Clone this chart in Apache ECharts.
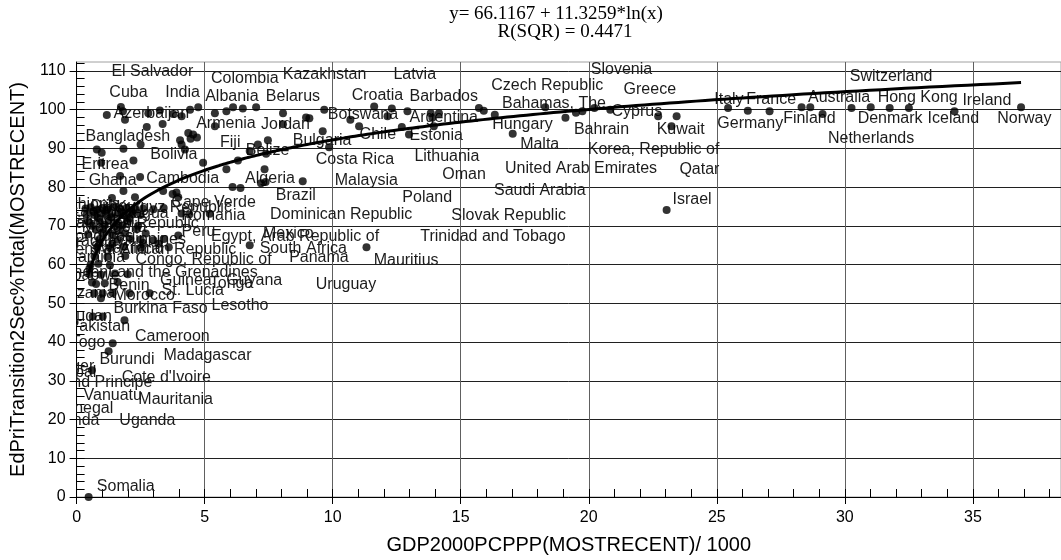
<!DOCTYPE html>
<html>
<head>
<meta charset="utf-8">
<script src="https://cdn.jsdelivr.net/npm/echarts@6/dist/echarts.min.js"></script>
<style>
html,body{margin:0;padding:0;background:#fff;}
#chart{width:1061px;height:560px;}
</style>
</head>
<body>
<div id="chart"></div>
<script>
// ---- Data (GDP per capita PPP /1000, primary->secondary transition %) ----
const pointX = [
  1.18,1.73,1.81,1.89,2.80,3.25,3.36,2.74,3.77,4.10,4.43,4.75,4.36,4.55,4.70,4.45,4.04,4.10,4.23,0.79,0.98,1.83,2.50,2.22,0.96,1.70,2.48,1.83,1.38,2.28,3.38,3.75,3.90,4.94,
  5.40,5.40,5.85,6.11,6.49,7.01,8.06,8.06,9.09,5.85,6.30,6.76,7.08,7.47,7.40,7.34,7.38,7.20,6.09,6.40,8.83,8.96,9.61,9.86,9.67,
  10.69,11.03,11.62,12.14,12.31,12.70,12.92,12.98,13.83,13.89,14.15,13.95,15.71,15.90,16.33,17.03,18.30,19.09,19.50,19.75,20.22,20.84,
  22.71,23.43,23.23,23.04,25.44,26.21,27.06,28.31,28.65,29.13,30.26,31.01,31.75,32.50,34.28,36.88,
  11.32,6.76,5.20,3.97,3.97,
  0.50,0.76,0.69,1.02,1.41,2.07,2.85,0.95,1.87,1.02,0.63,1.41,1.25,0.60,0.47,
  0.35,0.55,0.80,1.00,1.20,1.45,1.70,1.95,2.30,2.60,3.00,3.40,
  0.40,0.70,0.95,1.30,1.60,1.90,2.20,2.50,4.10,4.40,
  0.45,0.90,1.25,1.55,2.00,0.60,1.10,1.50,1.80,2.40,
  1.00,1.40,1.90,2.70,0.90,1.60,2.10,2.50,3.00,3.40,
  0.80,1.30,1.85,2.50,3.60,0.70,1.20,1.90,0.55,0.85,1.30,
  0.50,0.95,1.50,2.00,0.60,1.10,1.60,
  0.65,1.15,1.75,2.15,0.85,1.35,2.05,0.75,1.05,1.65,2.35,0.45,0.90,1.40,2.60,3.20
];
const pointY = [
  98.6,100.7,99.6,97.4,99.1,99.8,96.3,95.5,98.9,98.3,100.0,100.6,94.0,93.6,92.8,92.5,92.1,91.0,89.7,89.7,88.9,89.9,91.0,86.9,86.3,82.9,82.6,79.0,77.2,77.4,79.0,78.2,78.6,86.3,
  99.1,95.7,99.6,100.6,100.3,100.6,99.1,96.2,97.8,84.6,86.9,89.3,91.0,92.1,88.6,84.6,81.3,81.0,80.0,79.8,81.5,98.0,94.4,90.3,100.0,
  97.4,95.7,100.8,98.3,100.3,95.5,99.6,93.6,99.1,97.9,99.1,95.7,100.4,99.7,98.7,93.8,100.6,97.9,99.2,99.6,100.4,100.0,
  98.3,98.3,95.7,74.1,100.4,99.7,99.6,100.6,100.6,98.9,100.4,100.6,100.4,100.4,99.6,100.6,
  64.5,65.0,73.1,67.5,77.4,
  59.0,55.0,52.6,52.6,52.6,52.6,52.6,51.3,45.6,46.6,46.6,39.7,37.6,32.7,0.0,
  74.5,74.8,74.2,74.6,74.3,74.8,74.4,74.6,74.2,74.5,74.3,74.6,
  73.0,72.8,73.2,72.9,73.1,72.7,73.0,72.8,73.2,72.9,
  71.2,71.0,71.3,70.9,71.1,70.0,70.2,69.9,70.1,70.0,
  68.2,67.9,68.1,68.0,66.6,66.4,66.7,66.5,66.3,66.6,
  64.5,64.3,64.6,64.4,64.5,62.1,62.0,62.2,60.0,60.2,59.8,
  57.6,57.4,57.7,57.5,55.4,55.2,55.5,
  73.8,73.9,73.6,73.7,72.0,72.2,71.9,69.0,69.2,68.8,69.1,67.8,65.5,65.3,65.6,65.4
];

const labelText = [
  "El Salvador","Cuba","India","Colombia","Kazakhstan","Latvia","Albania","Belarus","Croatia","Barbados",
  "Czech Republic","Slovenia","Greece","Switzerland","Australia","Hong Kong","Ireland","Norway","Iceland","Denmark",
  "Netherlands","Finland","Germany","Italy","France","Cyprus","Kuwait","Bahrain","Bahamas, The","Hungary",
  "Malta","Korea, Republic of","United Arab Emirates","Qatar","Saudi Arabia","Israel","Slovak Republic","Trinidad and Tobago","Mauritius","Uruguay",
  "Poland","Dominican Republic","Oman","Lithuania","Estonia","Argentina","Botswana","Chile","Costa Rica","Malaysia",
  "Bulgaria","Jordan","Armenia","Fiji","Belize","Algeria","Brazil","Cambodia","Bolivia","Bangladesh",
  "Azerbaijan","Eritrea","Ghana","Cape Verde","Romania","Egypt, Arab Republic of","Mexico","South Africa","Panama","Guyana",
  "Tonga","Guinea","St. Lucia","Benin","Morocco","Lesotho","Burkina Faso","Cameroon","Burundi","Madagascar",
  "Cote d'Ivoire","Mauritania","Uganda","Somalia","Vanuatu",
  "Ethiopia","Djibouti","Kyrgyz Republic","Lao PDR","Nicaragua","Syrian Arab Republic","Tajikistan","Mongolia","Peru","Honduras",
  "Philippines","Paraguay","Swaziland","Central African Republic","Congo, Republic of","Namibia","St. Vincent and the Grenadines","Zimbabwe","Tanzania","Sudan",
  "Pakistan","Togo","Niger","Nepal","Sao Tome and Principe","Senegal","Rwanda"
];
const labelX = [
  1.36,1.28,3.46,5.25,8.05,12.37,5.02,7.39,10.74,13.00,
  16.19,20.08,21.36,30.19,28.56,31.28,34.59,35.95,33.23,30.50,
  29.34,27.59,25.02,24.90,26.15,20.89,22.65,19.42,16.61,16.23,
  17.32,19.96,16.73,23.54,16.30,23.27,14.63,13.42,11.60,9.34,
  12.72,7.55,14.28,13.19,13.00,13.00,9.81,11.05,9.34,10.08,
  8.44,7.20,4.67,5.60,6.61,6.58,7.78,2.72,2.88,0.35,
  1.44,0.19,0.47,3.70,4.09,5.25,7.28,7.15,8.30,5.84,
  5.20,3.26,3.32,1.25,1.44,5.27,1.44,2.28,0.89,3.39,
  1.76,2.41,1.67,0.79,0.27,
  -0.55,0.55,1.55,-0.20,0.75,-1.10,-0.30,0.20,4.10,-0.50,
  1.25,-0.80,0.55,-0.50,2.30,-0.40,-1.60,-1.20,-1.00,-0.43,
  -0.31,-0.23,-0.80,-0.86,-3.50,-0.86,-1.40
];
const labelY = [
  109.7,104.4,104.4,107.9,109.0,109.0,103.3,103.3,103.6,103.3,
  106.2,110.3,105.1,108.5,103.1,103.1,102.3,97.7,97.7,97.7,
  92.6,97.7,96.4,102.6,102.6,99.5,94.9,94.9,101.5,96.2,
  91.0,89.7,84.9,84.6,79.2,76.9,72.6,67.2,61.0,54.9,
  77.4,72.8,83.3,87.9,93.3,97.9,98.7,93.6,87.2,81.8,
  92.1,96.2,96.4,91.5,89.5,82.1,77.7,82.1,88.5,93.1,
  99.0,85.9,81.8,75.9,72.6,67.1,67.9,64.1,61.8,55.8,
  55.0,55.8,53.4,54.7,52.1,49.3,48.7,41.5,35.6,36.5,
  30.8,25.2,19.7,2.8,26.1,
  75.4,75.0,74.6,73.6,73.2,70.5,71.6,69.6,68.6,67.2,
  66.4,66.0,64.2,63.8,61.2,61.8,58.0,57.2,52.4,46.5,
  44.1,39.9,33.6,32.2,29.5,22.8,19.7
];

// Axis tick values
const xMajorTicks = [0,5,10,15,20,25,30,35];
const xMinorTicks = Array.from({length:39},(_,i)=>i);
const yMajorTicks = [0,10,20,30,40,50,60,70,80,90,100,110];
const yMinorTicks = Array.from({length:57},(_,i)=>i*2);

// Logarithmic fit shown in the title
const fitA = 66.1167, fitB = 11.3259;
const fitXMin = 0.47, fitXMax = 36.88;
const titleLine1 = "y= 66.1167 + 11.3259*ln(x)";
const titleLine2 = "R(SQR) = 0.4471";

// ---- Build ----
const X_MAX = 38.44, Y_MAX = 112.3;
const pts = pointX.map((x,i)=>[x, pointY[i]]);
const lbls = labelX.map((x,i)=>[x, labelY[i]]);
const fit = [];
for (let i=0;i<=300;i++){
  const x = fitXMin*Math.pow(fitXMax/fitXMin, i/300);
  fit.push([x, fitA + fitB*Math.log(x)]);
}
const SANS = '"Liberation Sans", Arial, Helvetica, sans-serif';
const SERIF = '"Liberation Serif", "Times New Roman", serif';

const chart = echarts.init(document.getElementById('chart'), null, {renderer:'canvas'});
chart.setOption({
  animation:false,
  backgroundColor:'#fff',
  grid:{left:73,right:0,top:62,bottom:60,show:true,borderColor:'#a0a0a0',borderWidth:1,backgroundColor:'transparent'},
  graphic:[
    {type:'text',x:556,y:14,z:10,style:{text:titleLine1,font:'19px '+SERIF,fill:'#000',align:'center',verticalAlign:'middle'}},
    {type:'text',x:565,y:32,z:10,style:{text:titleLine2,font:'19px '+SERIF,fill:'#000',align:'center',verticalAlign:'middle'}}
  ],
  xAxis:[
    {type:'value',min:0,max:X_MAX,interval:5,position:'bottom',
     name:'GDP2000PCPPP(MOSTRECENT)/ 1000',nameLocation:'middle',nameGap:38,
     nameTextStyle:{fontFamily:SANS,fontSize:20,color:'#000'},
     axisLine:{show:true,onZero:false,lineStyle:{color:'#000',width:1}},
     axisTick:{show:true,inside:false,length:7,lineStyle:{color:'#000'},customValues:xMajorTicks},
     axisLabel:{show:true,margin:13,fontFamily:SANS,fontSize:16,color:'#000',customValues:xMajorTicks},
     splitLine:{show:true,showMinLine:false,showMaxLine:true,lineStyle:{color:'#606060',width:1}}
    },
    {type:'value',min:0,max:X_MAX,interval:1,position:'bottom',
     axisLine:{show:false},
     axisTick:{show:true,inside:true,length:8,lineStyle:{color:'#000'},customValues:xMinorTicks},
     axisLabel:{show:false},splitLine:{show:false}
    }
  ],
  yAxis:[
    {type:'value',min:0,max:Y_MAX,interval:10,position:'left',
     name:'EdPriTransition2Sec%Total(MOSTRECENT)',nameLocation:'middle',nameGap:46,
     nameTextStyle:{fontFamily:SANS,fontSize:20,color:'#000'},
     axisLine:{show:true,onZero:false,lineStyle:{color:'#000',width:1}},
     axisTick:{show:true,inside:false,length:7,lineStyle:{color:'#000'},customValues:yMajorTicks},
     axisLabel:{show:true,margin:11,fontFamily:SANS,fontSize:16,color:'#000',customValues:yMajorTicks},
     splitLine:{show:true,showMinLine:false,showMaxLine:true,lineStyle:{color:'#202020',width:1}}
    },
    {type:'value',min:0,max:Y_MAX,interval:2,position:'left',
     axisLine:{show:false},
     axisTick:{show:true,inside:true,length:8,lineStyle:{color:'#000'},customValues:yMinorTicks},
     axisLabel:{show:false},splitLine:{show:false}
    }
  ],
  series:[
    {type:'custom',name:'labels',xAxisIndex:0,yAxisIndex:0,clip:true,z:2,silent:true,
     data:lbls,
     renderItem:function(params,api){
       const p = api.coord([api.value(0), api.value(1)]);
       return {type:'text',x:p[0],y:p[1],
         style:{text:labelText[params.dataIndex],fill:'#1c1c1c',font:'16px '+SANS,align:'left',verticalAlign:'middle'}};
     }
    },
    {type:'scatter',name:'countries',xAxisIndex:0,yAxisIndex:0,z:3,
     symbol:'circle',symbolSize:8,itemStyle:{color:'#000'},data:pts},
    {type:'line',name:'fit',xAxisIndex:0,yAxisIndex:0,z:4,showSymbol:false,symbol:'none',smooth:false,
     lineStyle:{color:'#000',width:3},data:fit}
  ]
});
</script>
</body>
</html>
